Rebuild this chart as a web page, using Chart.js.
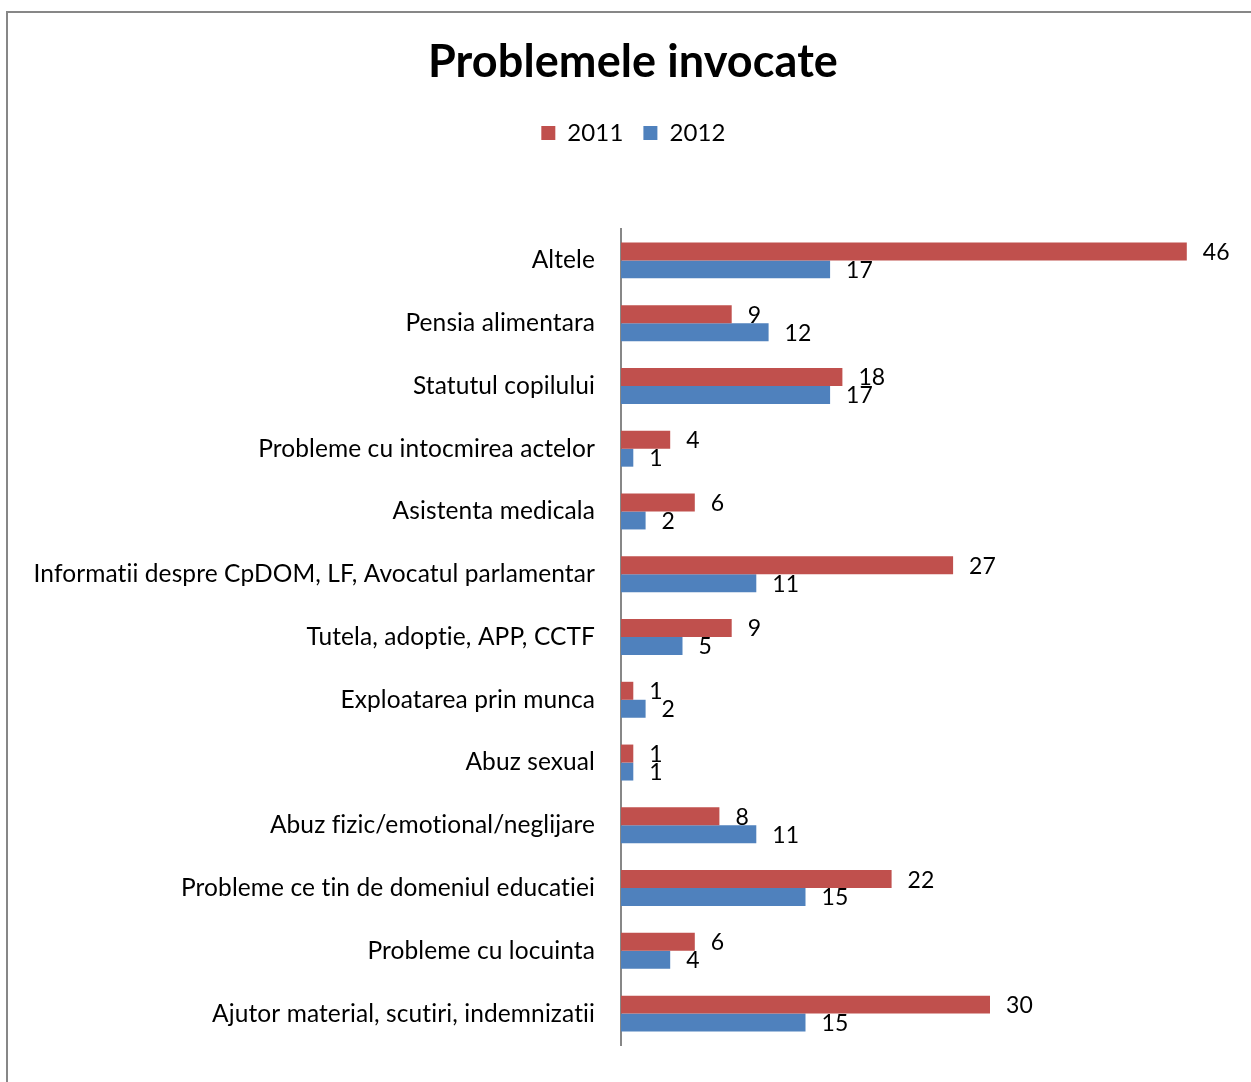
<!DOCTYPE html>
<html lang="ro">
  <head>
    <meta charset="UTF-8" />
    <title>Problemele invocate</title>
    <script src="https://cdn.jsdelivr.net/npm/chart.js"></script>
    <style>
      body {
        margin: 0;
        background: #fff;
        font-family: Lato, sans-serif;
      }
      .wrap {
        position: relative;
        width: 1251px;
        height: 1082px;
        overflow: hidden;
      }
      .frame {
        position: absolute;
        left: 6px;
        top: 11px;
        width: 1300px;
        height: 1200px;
        border-left: 2px solid #878787;
        border-top: 2px solid #878787;
        pointer-events: none;
      }
    </style>
  </head>
  <body>
    <div class="wrap">
      <canvas id="problemsChart" width="1251" height="1082"></canvas>
      <div class="frame"></div>
    </div>

    <script>
      const categories = [
        "Altele",
        "Pensia alimentara",
        "Statutul copilului",
        "Probleme cu intocmirea actelor",
        "Asistenta medicala",
        "Informatii despre CpDOM, LF, Avocatul parlamentar",
        "Tutela, adoptie, APP, CCTF",
        "Exploatarea prin munca",
        "Abuz sexual",
        "Abuz fizic/emotional/neglijare",
        "Probleme ce tin de domeniul educatiei",
        "Probleme cu locuinta",
        "Ajutor material, scutiri, indemnizatii",
      ];
      const values2011 = [46, 9, 18, 4, 6, 27, 9, 1, 1, 8, 22, 6, 30];
      const values2012 = [17, 12, 17, 1, 2, 11, 5, 2, 1, 11, 15, 4, 15];

      // value labels to the right of every bar
      const barLabels = {
        id: "barLabels",
        afterDatasetsDraw(chart) {
          const ctx = chart.ctx;
          ctx.save();
          ctx.font = "23px Lato";
          ctx.fillStyle = "#000";
          ctx.textAlign = "left";
          ctx.textBaseline = "middle";
          chart.data.datasets.forEach((ds, i) => {
            chart.getDatasetMeta(i).data.forEach((bar, j) => {
              ctx.fillText(ds.data[j], bar.x + 16, bar.y + 1);
            });
          });
          ctx.restore();
        },
      };

      // extra empty space between legend and plot
      const legendGap = {
        id: "legendGap",
        beforeInit(chart) {
          const fit = chart.legend.fit;
          chart.legend.fit = function () {
            fit.bind(chart.legend)();
            this.height += 74;
          };
        },
      };

      // no "ti"/"fi" ligatures (Lato has them, the original font not)
      const noLigatures = {
        id: "noLigatures",
        beforeDraw(chart) {
          chart.ctx.letterSpacing = "0.1px";
          chart.ctx.textRendering = "optimizeSpeed";
        },
      };

      new Chart(document.getElementById("problemsChart"), {
        type: "bar",
        data: {
          labels: categories,
          datasets: [
            {
              label: "2011",
              data: values2011,
              backgroundColor: "#C0504D",
              borderWidth: 0,
            },
            {
              label: "2012",
              data: values2012,
              backgroundColor: "#4F81BD",
              borderWidth: 0,
            },
          ],
        },
        options: {
          indexAxis: "y",
          responsive: false,
          animation: false,
          layout: { padding: { top: 20, right: 15, bottom: 37, left: 30 } },
          datasets: {
            bar: { categoryPercentage: 0.573, barPercentage: 1 },
          },
          scales: {
            x: { display: false, min: 0, max: 50 },
            y: {
              grid: { display: false, drawTicks: false },
              border: { color: "#878787", width: 2 },
              ticks: {
                color: "#000",
                font: { family: "Lato", size: 24.5 },
                padding: 26,
              },
              afterFit(scale) {
                scale.width = 591;
                scale.paddingTop = 0;
                scale.paddingBottom = 0;
              },
            },
          },
          plugins: {
            title: {
              display: true,
              text: "Problemele invocate",
              color: "#000",
              font: { family: "Lato", size: 45, weight: "bold" },
              padding: { top: 15, bottom: 12 },
            },
            legend: {
              labels: {
                color: "#000",
                font: { family: "Lato", size: 24 },
                boxWidth: 14,
                boxHeight: 14,
                padding: 20,
              },
            },
            tooltip: { enabled: false },
          },
        },
        plugins: [barLabels, legendGap, noLigatures],
      });
    </script>
  </body>
</html>
